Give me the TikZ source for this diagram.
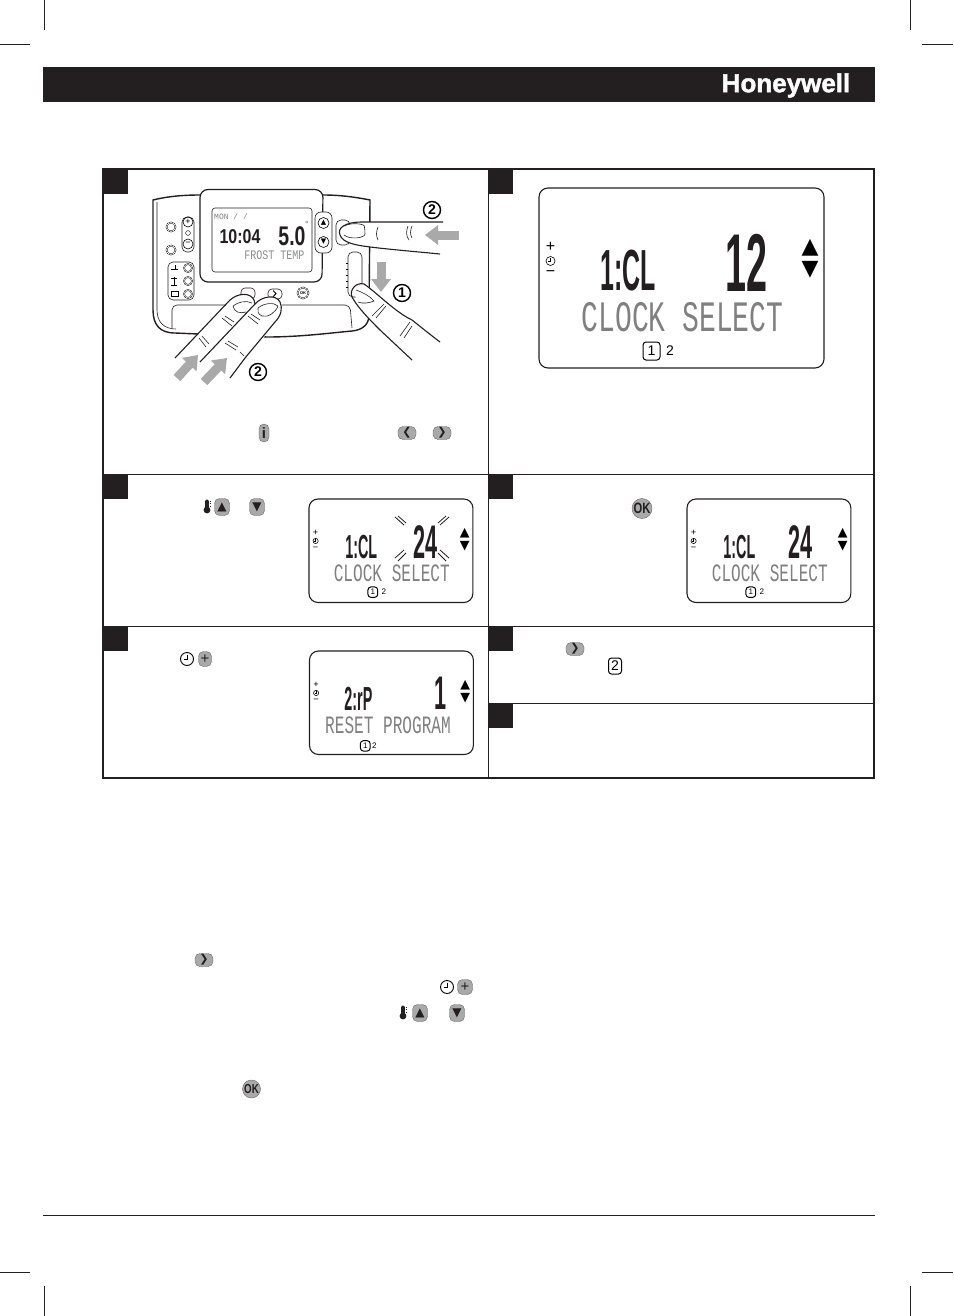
\documentclass[tikz,border=0pt]{standalone}
\usepackage{fontspec}
\usetikzlibrary{arrows.meta}
\newfontfamily\lcdfont{Liberation Sans}
\newfontfamily\lcdmono{Liberation Mono}
\newfontfamily\symfont{DejaVu Sans}
\definecolor{inkblack}{HTML}{231F20}
\definecolor{keygray}{HTML}{A9A9A9}
\tikzset{
    cropline/.style={line width=.6pt, inkblack},
    cellbox/.style={fill=inkblack, draw=none, minimum width=25pt, minimum height=25pt, inner sep=0pt, anchor=north west},
    keybtn/.style={fill=keygray, draw=black!60, line width=.4pt, rounded corners=5pt, inner sep=0pt, minimum width=#1, text=inkblack},
    keybtn/.default=18pt,
    okbtn/.style={fill=keygray, draw=black!60, line width=.4pt, circle, inner sep=0pt, minimum size=20pt, font=\lcdfont\bfseries\fontsize{15}{15}\selectfont, text=inkblack},
    lcdbig/.style={font=\lcdfont\bfseries\fontsize{82}{82}\selectfont, inner sep=0pt, transform shape, xscale=.46, text=inkblack},
    lcdmid/.style={font=\lcdfont\bfseries\fontsize{58}{58}\selectfont, inner sep=0pt, transform shape, xscale=.43, text=inkblack},
    lcdline/.style={font=\lcdmono\fontsize{28}{28}\selectfont, inner sep=0pt, transform shape, yscale=1.55, text=black!50},
    pagebox/.style={draw, rounded corners=3pt, line width=1pt, inner sep=0pt, minimum width=17pt, minimum height=18pt, font=\lcdfont\fontsize{14}{14}\selectfont, transform shape},
    pagenum/.style={inner sep=0pt, font=\lcdfont\fontsize{14}{14}\selectfont, transform shape},
    devline/.style={line width=.6pt, inkblack},
    finger/.style={fill=white, draw=inkblack, line width=1.1pt, line join=round},
    fingerfill/.style={fill=white, draw=none},
    pressarrow/.style={draw=keygray, line width=9pt, -{Triangle[length=13pt, width=19pt]}},
    stepmark/.style={circle, draw, line width=1.4pt, inner sep=0pt, minimum size=17pt, font=\lcdfont\bfseries\fontsize{14}{14}\selectfont},
    chevkey/.style={font=\symfont\bfseries\fontsize{11}{11}\selectfont},
    clockdial/.pic={
        \draw[line width=.9pt] (0,0) circle (6.5pt);
        \draw[line width=.9pt] (0,-4.5) -- (0,0) -- (-3.5,0);
    },
    thermo/.pic={
        \fill[inkblack] (0,3) circle (3.4pt);
        \fill[inkblack, rounded corners=1.5pt] (-1.8,3) rectangle (1.8,-7.5);
        \draw[inkblack, line width=.5pt] (2.5,-6) -- (4,-6) (2.5,-3.5) -- (4,-3.5) (2.5,-1) -- (4,-1);
    },
    lcdframe/.pic={
        \draw[rounded corners=9pt, line width=1.1pt, inkblack, fill=white] (0,0) rectangle (285,180);
        \node[inner sep=0pt, transform shape, font=\lcdfont\fontsize{16}{16}\selectfont] (plus) at (11.5,59) {+};
        \draw[line width=.6pt] (11.5,73) circle (4.5pt);
        \draw[line width=.6pt] (11.5,70) -- (11.5,73) -- (9,73);
        \node[inner sep=0pt, transform shape, font=\lcdfont\fontsize{16}{16}\selectfont] (minus) at (11.5,86) {\symbol{"2212}};
        \node[inner sep=0pt, transform shape, font=\symfont\fontsize{22}{22}\selectfont] (upmark) at (271,60) {\symbol{"25B2}};
        \node[inner sep=0pt, transform shape, font=\symfont\fontsize{22}{22}\selectfont] (downmark) at (271,82) {\symbol{"25BC}};
    },
}
\begin{document}
\begin{tikzpicture}[x=1pt, y=-1pt]
    \useasboundingbox (0,0) rectangle (953,1316);
    \fill[white] (0,0) rectangle (953,1316);

    \draw[cropline] (44,0) -- (44,30) (910,0) -- (910,30) (0,44) -- (30,44) (922,44) -- (953,44);
    \draw[cropline] (44,1286) -- (44,1316) (910,1286) -- (910,1316) (0,1272) -- (30,1272) (922,1272) -- (953,1272);

    \fill[inkblack] (43,67) rectangle (875,102);
    \node[inner sep=0pt, text=white, font=\lcdfont\bfseries\fontsize{26}{26}\addfontfeature{FakeBold=1.6}\selectfont] (brand) at (786,85.5) {Honeywell};
    \draw[line width=.7pt, inkblack] (43,1215) -- (875,1215);

    \draw[line width=2pt, inkblack] (103,169) rectangle (874,778);
    \draw[line width=.9pt, inkblack] (488,169) -- (488,778);
    \draw[line width=.9pt, inkblack] (103,474.5) -- (874,474.5);
    \draw[line width=.9pt, inkblack] (103,626.5) -- (874,626.5);
    \draw[line width=.9pt, inkblack] (488,703.5) -- (874,703.5);
    \node[cellbox] (cella) at (103,169) {};
    \node[cellbox] (cellb) at (488,169) {};
    \node[cellbox] (cellc) at (103,474) {};
    \node[cellbox] (celld) at (488,474) {};
    \node[cellbox] (celle) at (103,626) {};
    \node[cellbox] (cellf) at (488,626) {};
    \node[cellbox] (cellg) at (488,703) {};

    \begin{scope}
        \draw[line width=1.4pt, inkblack, fill=white] (200,195) .. controls (180,195) and (165,197) .. (153,200) -- (153,310)
            .. controls (153,325) and (160,333) .. (175,333) -- (267,337) .. controls (300,337) and (330,333) .. (352,331)
            .. controls (362,330) and (369,325) .. (369,315) -- (370,200) .. controls (355,197) and (340,195) .. (323,195);
        \draw[devline] (157,202) -- (157,310) .. controls (157,322) and (164,329) .. (176,329);
        \draw[line width=1.2pt, inkblack, fill=white, rounded corners=8pt] (200,189.5) -- (323,189.5) -- (322,282) -- (200,282) -- cycle;
        \draw[devline, rounded corners=3pt, fill=white] (212,208) rectangle (312,272);
        \node[inner sep=0pt, text=black!50, font=\lcdmono\fontsize{8}{8}\selectfont] (monlabel) at (231,217) {MON / /};
        \node[inner sep=0pt, text=inkblack, transform shape, xscale=.8, font=\lcdfont\bfseries\fontsize{20}{20}\selectfont] (timelabel) at (240,237) {10:04};
        \node[inner sep=0pt, text=inkblack, transform shape, xscale=.72, font=\lcdfont\bfseries\fontsize{27}{27}\selectfont] (templabel) at (292,236) {5.0};
        \node[inner sep=0pt, text=black!60, font=\lcdfont\fontsize{9}{9}\selectfont] (degmark) at (307,224) {\symbol{"00B0}};
        \node[inner sep=0pt, text=black!45, transform shape, yscale=1.3, font=\lcdmono\fontsize{10}{10}\selectfont] (frostlabel) at (274.5,255) {FROST TEMP};

        \draw[devline, fill=white, rounded corners=5pt] (182,217) rectangle (194,252);
        \node[circle, draw, line width=.6pt, inner sep=0pt, minimum size=10pt, font=\lcdfont\fontsize{9}{9}\selectfont] (minusplus) at (188,222) {+};
        \node[circle, draw, line width=.6pt, inner sep=0pt, minimum size=10pt, font=\lcdfont\fontsize{9}{9}\selectfont] (minusminus) at (188,244) {\symbol{"2212}};
        \draw[line width=.4pt] (188,233) circle (2.4pt);
        \foreach \cy/\cname in {227/knoba, 250/knobb}
            \node[circle, draw, double, line width=.45pt, inner sep=0pt, minimum size=9pt] (\cname) at (171,\cy) {};
        \draw[devline, fill=white, rounded corners=5pt] (168,262) rectangle (194,300);
        \foreach \cy/\cname in {268/knobc, 281/knobd, 294/knobe}
            \node[circle, draw, double, line width=.45pt, inner sep=0pt, minimum size=8pt] (\cname) at (188,\cy) {};
        \draw[line width=1pt] (171,269) -- (178,269) (175,265) -- (175,269) (174,277) -- (174,285) (171,285) -- (177,285) (171,278) -- (177,278) (171,291) rectangle (178,296);
        \draw[devline, fill=white, rounded corners=6pt] (315,212) rectangle (332,253);
        \node[circle, draw, line width=.6pt, inner sep=0pt, minimum size=11pt, font=\symfont\fontsize{7}{7}\selectfont] (tempup) at (323.5,223) {\symbol{"25B2}};
        \node[circle, draw, line width=.6pt, inner sep=0pt, minimum size=11pt, font=\symfont\fontsize{7}{7}\selectfont] (tempdown) at (323.5,242) {\symbol{"25BC}};
        \draw[devline, rounded corners=5pt] (336,220) rectangle (350,245);
        \draw[devline, rounded corners=5pt] (348,252) rectangle (362,297);
        \foreach \ty in {263,269,275,281,287}
            \draw[line width=.4pt] (346,\ty) -- (348,\ty);
        \draw[devline, fill=white, rounded corners=5pt] (172,328) -- (172,305) -- (350,305) -- (352,328);
        \draw[devline, rounded corners=4pt] (241,288) rectangle (255,299);
        \draw[devline, rounded corners=4pt] (268,289) rectangle (282,299);
        \draw[line width=1pt] (273,290.5) -- (276,293.5) -- (273,297);
        \node[circle, draw, double, line width=.45pt, inner sep=0pt, minimum size=11pt, font=\lcdfont\bfseries\fontsize{4}{4}\selectfont] (okdevice) at (303,293) {OK};

        \fill[fingerfill] (440,222) -- (360,222) .. controls (345,222) and (338,228) .. (340,234) .. controls (342,242) and (350,244) .. (362,246) -- (440,253) -- cycle;
        \draw[finger, fill=none] (443,222) -- (362,222) .. controls (345,222) and (337,228) .. (340,235) .. controls (343,243) and (355,245) .. (370,247) .. controls (395,250) and (420,252) .. (440,254);
        \draw[devline, rounded corners=4pt] (344,226) .. controls (352,222) and (364,224) .. (365,230) .. controls (365,238) and (350,240) .. (344,235);
        \draw[devline] (378,227) .. controls (376,232) and (376,236) .. (378,240) (408,226) .. controls (406,231) and (406,236) .. (409,240) (412,226) .. controls (410,231) and (410,234) .. (412,238);

        \fill[fingerfill] (352,290) .. controls (356,282) and (364,282) .. (370,288) -- (440,342) -- (412,360) -- (365,315) -- cycle;
        \draw[finger, fill=none] (352,297) .. controls (349,290) and (356,282) .. (364,284) .. controls (376,292) and (395,312) .. (412,320) .. controls (422,328) and (432,336) .. (440,342);
        \draw[finger, fill=none] (352,297) .. controls (358,308) and (370,320) .. (380,330) -- (412,360);
        \draw[devline] (356,290) .. controls (362,292) and (370,296) .. (374,301) .. controls (370,303) and (362,304) .. (358,302);
        \draw[devline] (372,316) -- (384,304) (376,318) -- (386,306) (400,336) -- (410,322) (404,338) -- (412,326);

        \fill[fingerfill] (175,358) -- (233,298) .. controls (240,292) and (252,292) .. (255,302) -- (258,310) -- (215,350) -- (190,370) -- cycle;
        \draw[finger, fill=none] (175,358) -- (230,300) .. controls (238,293) and (250,292) .. (254,300) .. controls (256,305) and (255,310) .. (252,313);
        \draw[devline] (233,306) .. controls (238,302) and (246,300) .. (252,303) (233,306) .. controls (234,312) and (240,314) .. (246,312);
        \draw[devline] (222,318) -- (232,326) (225,316) -- (234,322) (199,338) -- (206,347) (202,336) -- (209,344);

        \fill[fingerfill] (200,362) -- (257,302) .. controls (264,294) and (278,294) .. (282,305) .. controls (282,312) and (276,320) .. (270,330) -- (230,377) -- cycle;
        \draw[finger, fill=none] (200,362) -- (255,304) .. controls (262,296) and (276,294) .. (280,302) .. controls (283,308) and (281,316) .. (275,322) -- (245,358) -- (230,378);
        \draw[devline] (258,308) .. controls (264,303) and (274,302) .. (278,306) .. controls (276,312) and (268,318) .. (262,316) .. controls (258,314) and (257,311) .. (258,308);
        \draw[devline] (248,316) -- (258,324) (251,314) -- (260,320) (225,343) -- (236,350) (228,341) -- (238,347) (240,352) -- (244,356);

        \coordinate (presstaila) at (459,235);
        \coordinate (pressheada) at (425,235);
        \coordinate (presstailb) at (381,262);
        \coordinate (pressheadb) at (381,292);
        \coordinate (presstailc) at (177,378);
        \coordinate (pressheadc) at (198,355);
        \coordinate (presstaild) at (204,382);
        \coordinate (pressheadd) at (227,358);
        \draw[pressarrow] (presstaila) -- (pressheada);
        \draw[pressarrow] (presstailb) -- (pressheadb);
        \draw[pressarrow] (presstailc) -- (pressheadc);
        \draw[pressarrow] (presstaild) -- (pressheadd);
        \node[stepmark] (markone) at (402,293) {1};
        \node[stepmark] (marktwo) at (432,210) {2};
        \node[stepmark] (markthree) at (258,372) {2};
    \end{scope}

    \node[keybtn=10pt, minimum height=18pt, font=\lcdfont\bfseries\fontsize{15}{15}\selectfont] (infokey) at (264,433) {i};
    \node[keybtn, minimum height=13pt, chevkey] (backkey) at (407,433) {\symbol{"276E}};
    \node[keybtn, minimum height=13pt, chevkey] (nextkey) at (442,433) {\symbol{"276F}};

    \begin{scope}[shift={(539,188)}]
        \pic (lcdb) {lcdframe};
        \node[lcdmid] (lcdbtag) at (89,83) {1:CL};
        \node[lcdbig] (lcdbval) at (207.5,74.5) {12};
        \node[lcdline] (lcdbmsg) at (143.5,129.5) {CLOCK SELECT};
        \node[pagebox] (lcdbone) at (112.5,163) {1};
        \node[pagenum] (lcdbtwo) at (131,163) {2};
    \end{scope}
    \begin{scope}[shift={(309,499)}, scale=.575, transform shape]
        \pic (lcdc) {lcdframe};
        \node[lcdmid] (lcdctag) at (91,83) {1:CL};
        \node[lcdbig] (lcdcval) at (202,74) {24};
        \node[lcdline] (lcdcmsg) at (144,130) {CLOCK SELECT};
        \node[pagebox] (lcdcone) at (111,162) {1};
        \node[pagenum] (lcdctwo) at (130,162) {2};
    \end{scope}
    \foreach \ax/\ay/\bx/\by in {395/517/404/525, 398/516/406/523, 449/517/440/525, 446/516/438/523, 395/558/404/550, 398/561/406/553, 449/558/440/550, 446/561/438/553}
        \draw[line width=.8pt, inkblack] (\ax,\ay) -- (\bx,\by);
    \begin{scope}[shift={(687,499)}, scale=.575, transform shape]
        \pic (lcdd) {lcdframe};
        \node[lcdmid] (lcddtag) at (91,83) {1:CL};
        \node[lcdbig] (lcddval) at (198,74) {24};
        \node[lcdline] (lcddmsg) at (144,130) {CLOCK SELECT};
        \node[pagebox] (lcddone) at (111,162) {1};
        \node[pagenum] (lcddtwo) at (130,162) {2};
    \end{scope}
    \begin{scope}[shift={(309.5,651)}, scale=.575, transform shape]
        \pic (lcde) {lcdframe};
        \node[lcdmid] (lcdetag) at (85,84) {2:rP};
        \node[lcdbig] (lcdeval) at (228,74) {1};
        \node[lcdline] (lcdemsg) at (136.5,130) {RESET PROGRAM};
        \node[pagebox] (lcdeone) at (97,165) {1};
        \node[pagenum] (lcdetwo) at (113,165) {2};
    \end{scope}

    \pic at (207,507) {thermo};
    \node[keybtn=15pt, minimum height=17pt, font=\symfont\fontsize{12}{12}\selectfont] (upkeyc) at (222,507) {\symbol{"25B2}};
    \node[keybtn=15pt, minimum height=17pt, font=\symfont\fontsize{12}{12}\selectfont] (downkeyc) at (257,507) {\symbol{"25BC}};
    \node[okbtn] (okkeyd) at (642,508.5) {\scalebox{.75}[1]{OK}};
    \pic at (187,659) {clockdial};
    \node[keybtn=13pt, minimum height=15pt, font=\lcdfont\fontsize{15}{15}\selectfont] (pluskeye) at (205,659) {+};
    \node[keybtn, minimum height=13pt, chevkey] (nextkeyf) at (575,649) {\symbol{"276F}};
    \node[pagebox, minimum width=13pt, minimum height=16pt] (pagetwof) at (615,666) {2};

    \node[keybtn, minimum height=13pt, chevkey] (nextkeyh) at (204,960) {\symbol{"276F}};
    \pic at (447,987) {clockdial};
    \node[keybtn=15pt, minimum height=15pt, font=\lcdfont\fontsize{15}{15}\selectfont] (pluskeyh) at (465,987) {+};
    \pic at (403,1013) {thermo};
    \node[keybtn=15pt, minimum height=17pt, font=\symfont\fontsize{12}{12}\selectfont] (upkeyh) at (420,1013) {\symbol{"25B2}};
    \node[keybtn=15pt, minimum height=17pt, font=\symfont\fontsize{12}{12}\selectfont] (downkeyh) at (457,1013) {\symbol{"25BC}};
    \node[okbtn, minimum size=18pt, font=\lcdfont\bfseries\fontsize{13}{13}\selectfont] (okkeyh) at (251.5,1089) {\scalebox{.75}[1]{OK}};
\end{tikzpicture}
\end{document}
